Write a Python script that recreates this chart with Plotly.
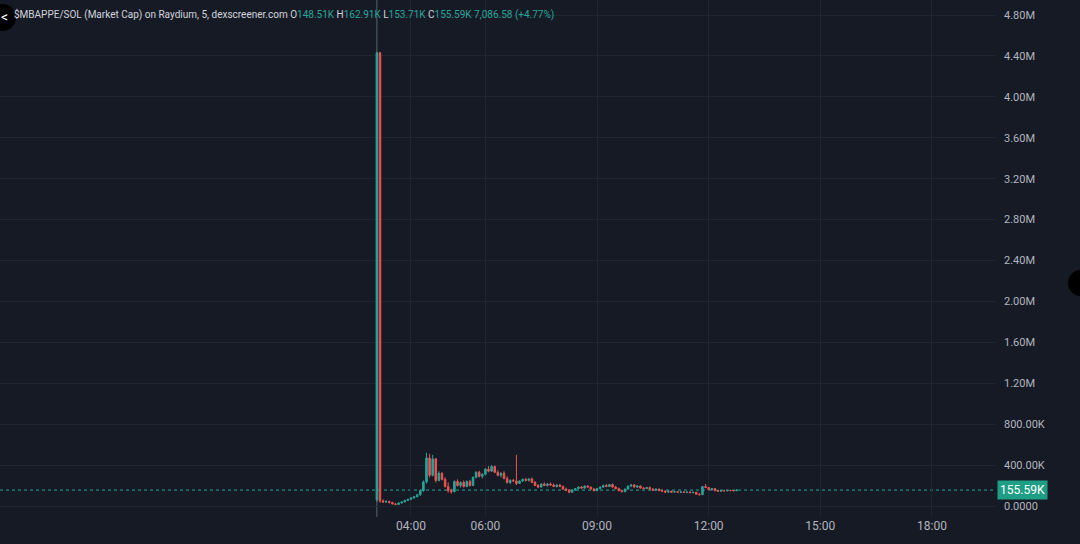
import plotly.graph_objects as go
import pandas as pd

# ---------------- data (values in thousands, 5-minute candles) ----------------
start_time = "2024-06-04 03:05"
opens = [60, 4430, 50, 40, 45, 35, 20, 15, 30, 40, 55, 65, 80, 90, 110, 150, 235, 470, 300, 460,
         250, 320, 260, 190, 150, 140, 240, 200, 230, 190, 240, 200, 280, 330, 290, 310, 360, 340, 385, 330,
         300, 320, 270, 230, 250, 245, 220, 245, 260, 250, 265, 230, 200, 185, 215, 200, 215, 205, 190, 205,
         190, 165, 155, 135, 155, 170, 185, 175, 195, 185, 165, 150, 170, 185, 200, 190, 210, 185, 170, 150,
         140, 165, 195, 205, 185, 195, 175, 170, 180, 165, 155, 165, 150, 145, 135, 145, 135, 140, 135, 138,
         132, 136, 130, 134, 115, 110, 190, 180, 160, 170, 150, 145, 150, 148, 152, 150, 148.51]
highs = [4440, 4440, 65, 55, 50, 40, 30, 35, 45, 60, 70, 85, 95, 115, 160, 250, 520, 510, 500, 470,
         340, 330, 280, 230, 170, 250, 260, 240, 250, 250, 255, 290, 340, 345, 320, 370, 390, 400, 395, 350,
         330, 340, 290, 260, 265, 500, 250, 270, 275, 270, 280, 245, 215, 220, 230, 225, 230, 220, 210, 215,
         200, 180, 165, 160, 175, 190, 195, 200, 205, 190, 175, 175, 190, 210, 215, 215, 220, 195, 180, 160,
         170, 200, 215, 215, 200, 200, 185, 185, 190, 175, 170, 170, 160, 155, 150, 150, 145, 145, 145, 142,
         140, 142, 138, 136, 125, 195, 215, 185, 175, 172, 160, 155, 158, 156, 158, 156, 162.91]
lows = [40, 30, 30, 30, 25, 15, 8, 12, 25, 35, 50, 60, 70, 85, 100, 140, 220, 280, 290, 230,
        240, 250, 180, 130, 120, 135, 190, 180, 180, 185, 190, 195, 270, 280, 270, 300, 330, 335, 320, 290,
        280, 260, 220, 215, 235, 205, 215, 235, 240, 240, 225, 195, 175, 180, 195, 190, 200, 185, 180, 185,
        160, 150, 125, 130, 150, 165, 170, 170, 180, 160, 145, 145, 165, 180, 185, 185, 180, 165, 145, 135,
        135, 160, 185, 180, 175, 170, 165, 165, 160, 150, 150, 145, 140, 130, 130, 130, 130, 130, 128, 128,
        126, 128, 125, 112, 105, 108, 175, 155, 150, 145, 140, 140, 145, 145, 148, 146, 146]
closes = [4430, 50, 40, 45, 35, 20, 15, 30, 40, 55, 65, 80, 90, 110, 150, 235, 470, 300, 460, 250,
          320, 260, 190, 150, 140, 240, 200, 230, 190, 240, 200, 280, 330, 290, 310, 360, 340, 385, 330, 300,
          320, 270, 230, 250, 245, 220, 245, 260, 250, 265, 230, 200, 185, 215, 200, 215, 205, 190, 205, 190,
          165, 155, 135, 155, 170, 185, 175, 195, 185, 165, 150, 170, 185, 200, 190, 210, 185, 170, 150, 140,
          165, 195, 205, 185, 195, 175, 170, 180, 165, 155, 165, 150, 145, 135, 145, 135, 140, 135, 138, 132,
          136, 130, 134, 115, 110, 190, 180, 160, 170, 150, 145, 150, 148, 152, 150, 148.51, 155.59]

last_price = 155.59
y_tick_vals = [0, 400, 800, 1200, 1600, 2000, 2400, 2800, 3200, 3600, 4000, 4400, 4800]
y_tick_text = ["0.0000", "400.00K", "800.00K", "1.20M", "1.60M", "2.00M", "2.40M", "2.80M",
               "3.20M", "3.60M", "4.00M", "4.40M", "4.80M"]
x_tick_vals = ["2024-06-04 04:00", "2024-06-04 06:00", "2024-06-04 09:00",
               "2024-06-04 12:00", "2024-06-04 15:00", "2024-06-04 18:00"]
x_tick_text = ["04:00", "06:00", "09:00", "12:00", "15:00", "18:00"]

times = pd.date_range(start_time, periods=len(closes), freq="5min")

# ---------------- style ----------------
BG = "#161a25"
GRID = "#212531"
TXT = "#b2b5be"
UP = "#26a69a"
DN = "#ef5350"
FONT = "Roboto"

PW, PH = 995, 517  # plot area pixels

fig = go.Figure()
fig.add_trace(go.Candlestick(
    x=times, open=opens, high=highs, low=lows, close=closes,
    increasing=dict(line=dict(color=UP, width=1), fillcolor=UP),
    decreasing=dict(line=dict(color=DN, width=1), fillcolor=DN),
    whiskerwidth=0, showlegend=False, hoverinfo="skip",
))

# last price dotted line
fig.add_shape(type="line", xref="paper", x0=0, x1=1, yref="y", y0=last_price, y1=last_price,
              line=dict(color=UP, width=1, dash="dot"), layer="below")
# crosshair vertical line
fig.add_shape(type="line", xref="x", x0=times[0], x1=times[0], yref="paper", y0=0, y1=1,
              line=dict(color="rgba(140,160,165,0.55)", width=1), layer="below")


def px_x(p):
    return p / PW


def px_y(p):
    return 1 - p / PH


# UI circles (buttons)
fig.add_shape(type="circle", xref="paper", yref="paper",
              x0=px_x(-11), x1=px_x(16), y0=px_y(31), y1=px_y(4),
              fillcolor="#000000", line=dict(width=0))
fig.add_shape(type="circle", xref="paper", yref="paper",
              x0=px_x(1068), x1=px_x(1094), y0=px_y(296), y1=px_y(270),
              fillcolor="#000000", line=dict(width=0))
fig.add_annotation(xref="paper", yref="paper", x=px_x(4), y=px_y(17), text="<",
                   showarrow=False, font=dict(family=FONT, size=14, color="#ffffff"),
                   xanchor="center", yanchor="middle")

# header
g = f"<span style='color:{UP}'>"
header = ("$MBAPPE/SOL (Market Cap) on Raydium, 5, dexscreener.com "
          f"O{g}148.51K</span> H{g}162.91K</span> L{g}153.71K</span> "
          f"C{g}155.59K</span> {g}7,086.58 (+4.77%)</span>")
fig.add_annotation(xref="paper", yref="paper", x=px_x(12), y=px_y(15), text=header,
                   showarrow=False, xanchor="left", yanchor="middle",
                   font=dict(family=FONT, size=10, color="#d1d4dc"))

# last price label
fig.add_annotation(xref="paper", yref="y", x=px_x(997), y=last_price, text="155.59K",
                   showarrow=False, xanchor="left", yanchor="middle",
                   bgcolor="#1f9e86", borderpad=2,
                   font=dict(family=FONT, size=12, color="#ffffff"))

# y range from pixel calibration: 0 at py 506, 4800 at py 15
k_per_px = 4800 / (506 - 15)
y_min = -(PH - 506) * k_per_px
y_max = 506 * k_per_px

fig.update_layout(
    width=1080, height=544,
    paper_bgcolor=BG, plot_bgcolor=BG,
    margin=dict(l=0, r=1080 - PW, t=0, b=544 - PH),
    font=dict(family=FONT, color=TXT, size=11),
    xaxis=dict(
        type="date",
        range=["2024-06-03 16:57:18", "2024-06-04 19:41:42"],
        tickvals=x_tick_vals, ticktext=x_tick_text,
        showgrid=True, gridcolor=GRID, gridwidth=1,
        zeroline=False, showline=False, ticks="",
        rangeslider=dict(visible=False),
        tickfont=dict(family=FONT, size=12, color=TXT),
        fixedrange=True,
    ),
    yaxis=dict(
        side="right",
        range=[y_min, y_max],
        tickvals=y_tick_vals, ticktext=y_tick_text,
        showgrid=True, gridcolor=GRID, gridwidth=1,
        zeroline=False, showline=False, ticks="",
        ticklabelstandoff=8,
        tickfont=dict(family=FONT, size=11, color=TXT),
        fixedrange=True,
    ),
)

fig.write_html("out.html", config={"displayModeBar": False},
               post_script="document.body.style.margin='0';document.body.style.background='%s';" % BG)
